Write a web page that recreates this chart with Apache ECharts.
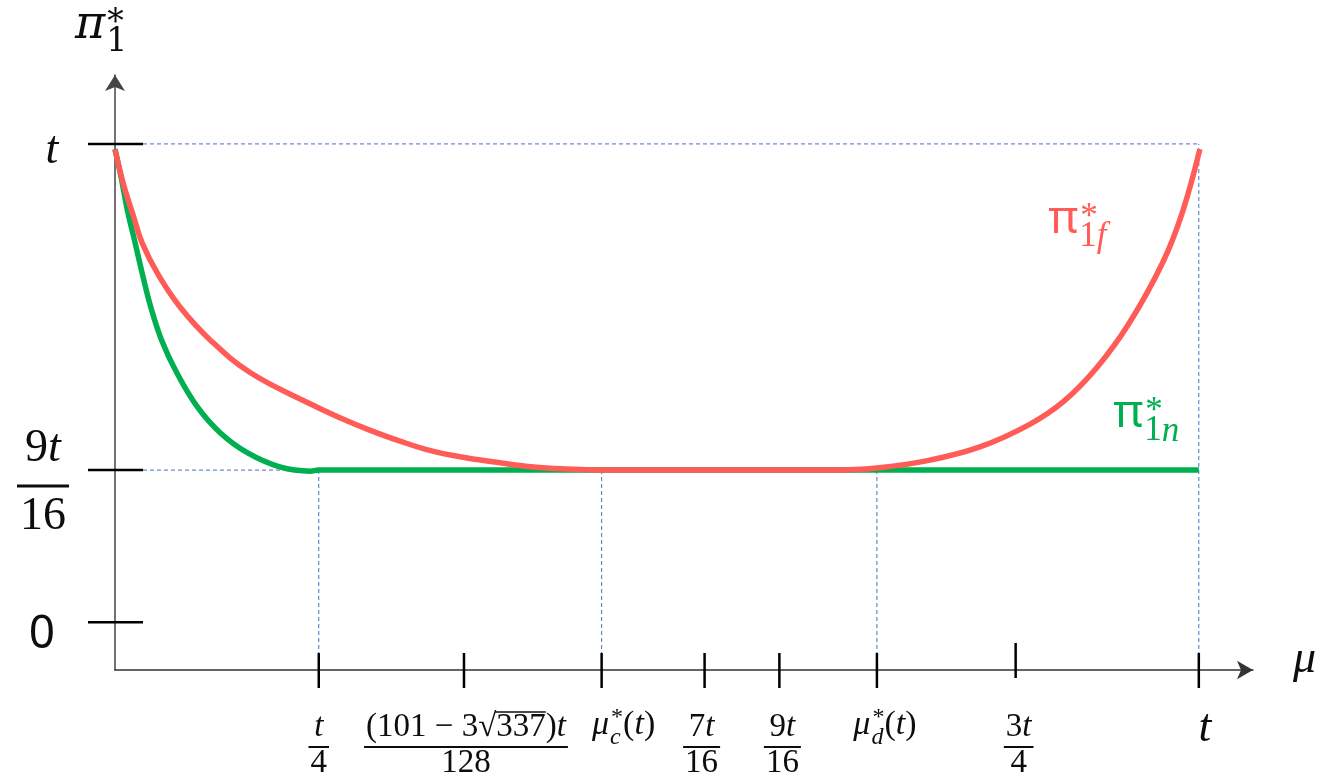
<!DOCTYPE html>
<html><head><meta charset="utf-8">
<script src="https://cdn.jsdelivr.net/npm/echarts@6/dist/echarts.min.js"></script>
<style>html,body{margin:0;padding:0;background:#fff}#c{width:1327px;height:780px}</style>
</head><body><div id="c"></div>
<script>
// Schematic units: x = 1 at mu = t, y = 1 at pi = t
const xTickPos = [0.188, 0.322, 0.449, 0.544, 0.613, 0.703, 0.831, 1.0];
const xTickLabels = ['t/4', '(101 − 3√337)t/128', 'μ*c(t)', '7t/16', '9t/16', 'μ*d(t)', '3t/4', 't'];
const yTickPos = [1.0, 0.38, 0.091];
const yTickLabels = ['t', '9t/16', '0'];
const xAxisName = 'μ';
const yAxisName = 'π*1';
const seriesNames = ['π*1f', 'π*1n'];

const greenX = [0, 0.006, 0.011, 0.018, 0.025, 0.033, 0.043, 0.057, 0.076, 0.097, 0.122, 0.152, 0.180, 0.188, 1.0];
const greenY = [0.990, 0.933, 0.878, 0.817, 0.755, 0.690, 0.627, 0.565, 0.500, 0.451, 0.413, 0.386, 0.378, 0.380, 0.380];
const redX = [0, 0.008, 0.017, 0.025, 0.040, 0.060, 0.088, 0.125, 0.180, 0.208, 0.235, 0.263, 0.293, 0.325, 0.355, 0.386, 0.417, 0.448,
  0.660, 0.703, 0.752, 0.798, 0.844, 0.875, 0.906, 0.936, 0.967, 0.985, 1.001];
const redY = [0.989, 0.922, 0.863, 0.812, 0.751, 0.690, 0.627, 0.565, 0.506, 0.479, 0.456, 0.435, 0.416, 0.403, 0.394, 0.386, 0.382, 0.380,
  0.380, 0.384, 0.399, 0.424, 0.467, 0.510, 0.575, 0.660, 0.776, 0.871, 0.990];

// ---- styles (not data) ----
const RED = '#FF5B57', GREEN = '#00B050', BLUE = '#4472C4', INK = '#0D0D0D';
const SERIF = "'Liberation Serif', 'DejaVu Serif', serif";
const DSERIF = "'DejaVu Serif', serif";
const SANS = "'Noto Sans', 'Liberation Sans', sans-serif";
const xLabelSize = [33, 33, 34, 33, 33, 34, 33, 46];
const xLabelDx = [0, 2, 22, -3, 3, 8, 3, 6];
const xTickShift = [0, 0, 0, 0, 0, 0, -10, 0];
const yLabelDx = [-63, -72, -73];
const yLabelDy = [23, 16, 31];
const yLabelFam = [SERIF, SERIF, SANS];
const seriesLabelAnchor = [[0.861, 0.821], [0.921, 0.452]];

const mctx = document.createElement('canvas').getContext('2d');
function mid(fam) { return fam === SANS ? 0.39 : (fam === DSERIF ? 0.35 : 0.34); }
function isLetter(c) { return /[a-zA-Zμπ]/.test(c); }
function runs(str) {
  const out = [];
  for (const c of str) {
    const it = isLetter(c); const last = out[out.length - 1];
    if (last && last.it === it) last.t += c; else out.push({ t: c, it });
  }
  return out;
}
function tokenize(expr) {
  const out = []; let i = 0;
  while (i < expr.length) {
    const c = expr[i];
    if (c === '*') { let j = i + 1; while (j < expr.length && /[0-9a-z]/.test(expr[j])) j++; out.push({ k: 'stack', sub: expr.slice(i + 1, j) }); i = j; continue; }
    if (c === '√') { let j = i + 1; while (j < expr.length && /[0-9]/.test(expr[j])) j++; out.push({ k: 'sqrt', t: expr.slice(i + 1, j) }); i = j; continue; }
    const it = isLetter(c); const last = out[out.length - 1];
    if (last && last.k === 'txt' && last.it === it) last.t += c; else out.push({ k: 'txt', t: c, it });
    i++;
  }
  return out;
}
function inline(expr, o) {
  const items = [], lines = []; let x = 0;
  const put = (t, it, size, dy, fam, px) => {
    const f = (it ? 'italic ' : '') + size + 'px ' + fam;
    mctx.font = f; const w = mctx.measureText(t).width;
    items.push({ t, f, x: px, dy, size, fam }); return w;
  };
  for (const tk of tokenize(expr)) {
    if (tk.k === 'txt') {
      const up = o.piUp && tk.t === 'π';
      x += put(tk.t, up ? false : tk.it, up ? o.piSize : o.s, 0, up ? SANS : o.fam, x);
    } else if (tk.k === 'stack') {
      const ss = Math.round(o.s * (o.subR || 0.72)); const x0 = x + 1; let ws = 0;
      for (const r of runs(tk.sub)) ws += put(r.t, r.it, ss, o.s * 0.25, o.fam, x0 + ws);
      const wu = put('*', false, ss, o.s * (o.supDy != null ? o.supDy : -0.33), o.fam, x0 + 1);
      x = x0 + Math.max(ws, wu) + 1;
    } else if (tk.k === 'sqrt') {
      const wsq = put('√', false, o.s, 0, o.fam, x);
      const xr = x + wsq; const wr = put(tk.t, false, o.s, 0, o.fam, xr);
      lines.push({ x1: xr - 1, x2: xr + wr, dy: -o.s * 0.82 });
      x = xr + wr;
    }
  }
  return { items, lines, w: x };
}
function emit(lay, left, base, col, ch) {
  for (const it of lay.items) {
    ch.push({ type: 'text', x: left + it.x, y: base + it.dy - mid(it.fam) * it.size,
      style: { text: it.t, font: it.f, fill: col, textAlign: 'left', textVerticalAlign: 'middle' } });
  }
  for (const l of lay.lines) {
    ch.push({ type: 'line', shape: { x1: left + l.x1, y1: base + l.dy, x2: left + l.x2, y2: base + l.dy }, style: { stroke: col, lineWidth: 1.5 } });
  }
}
function drawLabel(label, cx, y, f, ch) {
  const o = { s: f.s, fam: f.fam };
  const k = label.lastIndexOf('/');
  if (k > 0) {
    const ln = inline(label.slice(0, k), o), ld = inline(label.slice(k + 1), o);
    const bw = Math.max(ln.w, ld.w) + f.pad;
    emit(ln, cx - ln.w / 2, y - f.gN, INK, ch);
    emit(ld, cx - ld.w / 2, y + f.gD, INK, ch);
    ch.push({ type: 'rect', shape: { x: cx - bw / 2, y: y - f.bar / 2, width: bw, height: f.bar }, style: { fill: INK } });
  } else {
    const l = inline(label, o);
    emit(l, cx - l.w / 2, y, INK, ch);
  }
}

const zip = (a, b) => a.map((v, i) => [v, b[i]]);
const guides = [
  [[0, yTickPos[0]], [xTickPos[7], yTickPos[0]]],
  [[0, yTickPos[1]], [xTickPos[0], yTickPos[1]]],
  [[xTickPos[0], 0], [xTickPos[0], yTickPos[1]]],
  [[xTickPos[2], 0], [xTickPos[2], yTickPos[1]]],
  [[xTickPos[5], 0], [xTickPos[5], yTickPos[1]]],
  [[xTickPos[7], 0], [xTickPos[7], yTickPos[0]]]
];
const X_MAX = 1.05, Y_MAX = 1.131;

const chart = echarts.init(document.getElementById('c'));
const series = [];
guides.forEach(g => series.push({ type: 'line', data: g, symbol: 'none', silent: true, z: 1,
  lineStyle: { color: BLUE, width: 1, type: [4, 3] } }));
series.push({ type: 'line', name: seriesNames[1], data: zip(greenX, greenY), symbol: 'none', smooth: 0.4, z: 3,
  lineStyle: { color: GREEN, width: 5.5 } });
series.push({ type: 'line', name: seriesNames[0], data: zip(redX, redY), symbol: 'none', smooth: 0.4, z: 4,
  lineStyle: { color: RED, width: 5.5 } });
// x ticks + labels
series.push({ type: 'custom', z: 6, silent: true, data: xTickPos.map(v => [v, 0]),
  renderItem: (p, api) => {
    const i = p.dataIndex; const c = api.coord([api.value(0), 0]);
    const ch = [{ type: 'line', shape: { x1: c[0], y1: c[1] - 17 + xTickShift[i], x2: c[0], y2: c[1] + 18 + xTickShift[i] }, style: { stroke: '#000', lineWidth: 2.5 } }];
    const s = xLabelSize[i];
    const isFrac = xTickLabels[i].indexOf('/') > 0;
    drawLabel(xTickLabels[i], c[0] + xLabelDx[i], c[1] + (isFrac ? 77 : (s > 40 ? 75 : 67)),
      { s, fam: SERIF, pad: 4, bar: 2, gN: 8, gD: 28 }, ch);
    return { type: 'group', children: ch };
  } });
// y ticks + labels
series.push({ type: 'custom', z: 6, silent: true, data: yTickPos.map(v => [0, v]),
  renderItem: (p, api) => {
    const i = p.dataIndex; const c = api.coord([0, api.value(1)]);
    const ch = [{ type: 'line', shape: { x1: c[0] - 27, y1: c[1], x2: c[0] + 28, y2: c[1] }, style: { stroke: '#000', lineWidth: 2.5 } }];
    drawLabel(yTickLabels[i], c[0] + yLabelDx[i], c[1] + yLabelDy[i],
      { s: 46, fam: yLabelFam[i], pad: 6, bar: 3, gN: 22, gD: 46 }, ch);
    return { type: 'group', children: ch };
  } });
// axis names
series.push({ type: 'custom', z: 6, silent: true, data: [[X_MAX, 0], [0, Y_MAX]],
  renderItem: (p, api) => {
    const c = api.coord([api.value(0), api.value(1)]); const ch = [];
    if (p.dataIndex === 0) emit(inline(xAxisName, { s: 46, fam: SERIF }), c[0] + 40, c[1] + 6, INK, ch);
    else emit(inline(yAxisName, { s: 46, fam: DSERIF, supDy: -0.15 }), c[0] - 40, c[1] - 33, INK, ch);
    return { type: 'group', children: ch };
  } });
// series name labels
series.push({ type: 'custom', z: 6, silent: true, data: seriesLabelAnchor,
  renderItem: (p, api) => {
    const c = api.coord([api.value(0), api.value(1)]); const ch = [];
    emit(inline(seriesNames[p.dataIndex], { s: 44, fam: SERIF, piUp: true, piSize: 46, subR: 0.8, supDy: -0.2 }), c[0], c[1], p.dataIndex === 0 ? RED : GREEN, ch);
    return { type: 'group', children: ch };
  } });

chart.setOption({
  animation: false,
  backgroundColor: '#fff',
  grid: { left: 115, right: 74, top: 75, bottom: 110, containLabel: false, outerBoundsMode: 'none' },
  xAxis: { type: 'value', min: 0, max: X_MAX,
    axisLine: { show: true, onZero: true, symbol: ['none', 'arrow'], symbolSize: [14, 16], lineStyle: { color: '#333', width: 1.5 } },
    axisTick: { show: false }, axisLabel: { show: false }, splitLine: { show: false } },
  yAxis: { type: 'value', min: 0, max: Y_MAX,
    axisLine: { show: true, onZero: true, symbol: ['none', 'arrow'], symbolSize: [15, 16], lineStyle: { color: '#444', width: 1.5 } },
    axisTick: { show: false }, axisLabel: { show: false }, splitLine: { show: false } },
  series
});
</script></body></html>
